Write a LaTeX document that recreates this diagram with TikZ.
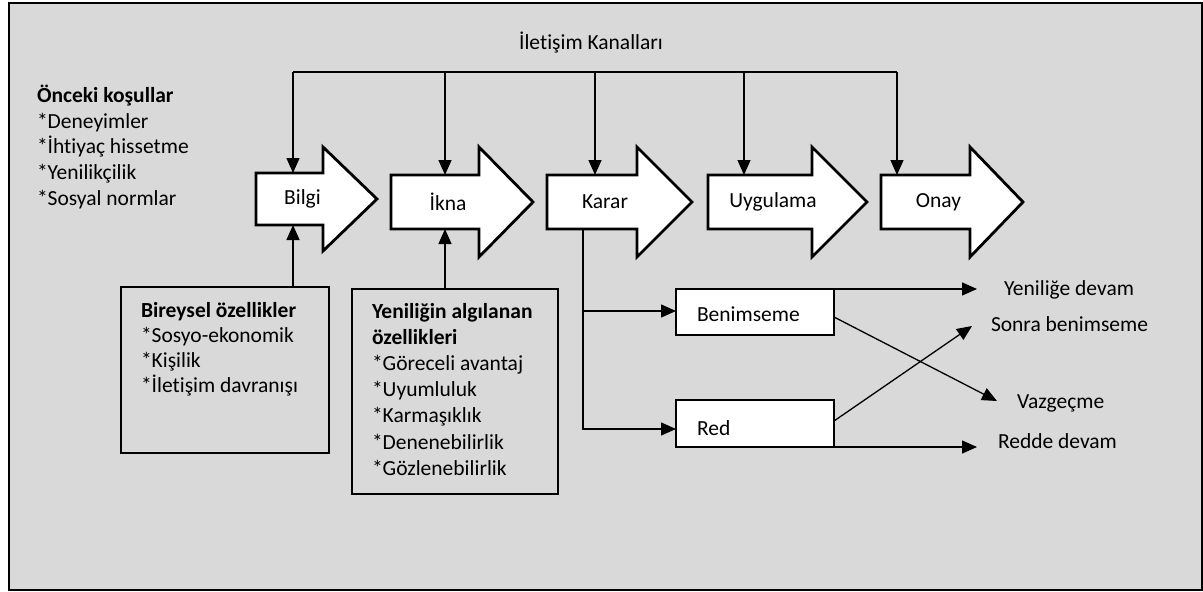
\documentclass[tikz,border=0pt]{standalone}
\usepackage{fontspec}
\setmainfont{Carlito}[Ligatures=NoCommon]
\usetikzlibrary{arrows.meta,calc}
\definecolor{bg}{HTML}{D9D9D9}
\newcommand\blkarrow[3]{%
  \draw[blk] (#1.north west) -- (#1.north east) -- ++(0,-#2)
    -- ($(#1.east)+(#3,0)$) -- ($(#1.south east)+(0,#2)$)
    -- (#1.south east) -- (#1.south west) -- cycle;}
\begin{document}
\begin{tikzpicture}[x=1pt,y=-1pt,
  every node/.style={font=\fontsize{21.5}{25.7}\selectfont, inner sep=0pt, outer sep=0pt},
  shaftbox/.style={draw=none, minimum height=#1},
  blk/.style={draw=black, fill=white, line width=2.8pt, line join=miter},
  conn/.style={draw=black, line width=1.3pt},
  tip/.style={-{Triangle[length=15pt,width=13pt]}},
  boxed/.style={draw=black, line width=1.3pt, fill=#1},
  boxed/.default=bg]
\path[use as bounding box] (0,0) rectangle (1203,592);
\draw[line width=1.6pt, fill=bg] (9,3) rectangle (1202,590);

% block arrows (shaft nodes)
\node[shaftbox=52, minimum width=67] (bilgi) at (289.5,199) {};
\node[shaftbox=54, minimum width=88] (ikna) at (435,202) {};
\node[shaftbox=54, minimum width=90] (karar) at (592,202) {};
\node[shaftbox=54, minimum width=104] (uyg) at (760,202) {};
\node[shaftbox=54, minimum width=89] (onay) at (925.5,202) {};
\blkarrow{bilgi}{26}{54}
\blkarrow{ikna}{28}{54}
\blkarrow{karar}{28}{55}
\blkarrow{uyg}{28}{55}
\blkarrow{onay}{28}{53}
\node (bilgiT) at ($(bilgi.center)+(13,0)$) {Bilgi};
\node (iknaT) at ($(ikna.center)+(13,0)$) {İkna};
\node (kararT) at ($(karar.center)+(13,0)$) {Karar};
\node (uygT) at ($(uyg.center)+(13,0)$) {Uygulama};
\node (onayT) at ($(onay.center)+(13,0)$) {Onay};

% communication channels
\node (chan) at (591,43) {İletişim Kanalları};
\coordinate (c1) at (293,72);
\coordinate (c2) at (445,72);
\coordinate (c3) at (595,72);
\coordinate (c4) at (744,72);
\coordinate (c5) at (897,72);
\draw[conn] (c1) -- (c5);
\draw[conn,tip] (c1) -- (c1 |- bilgi.north);
\draw[conn,tip] (c2) -- (c2 |- ikna.north);
\draw[conn,tip] (c3) -- (c3 |- karar.north);
\draw[conn,tip] (c4) -- (c4 |- uyg.north);
\draw[conn,tip] (c5) -- (c5 |- onay.north);

% prior conditions
\node[anchor=base west] (oncH) at (37,102) {\textbf{Önceki koşullar}};
\foreach \t [count=\i from 0] in {{*Deneyimler},{*İhtiyaç hissetme},{*Yenilikçilik},{*Sosyal normlar}}
  \node[anchor=base west] (onc\i) at (37,{128+25.7*\i}) {\t};

% individual characteristics
\node[boxed, minimum width=208, minimum height=166] (bir) at (225,370) {};
\node[anchor=base west] (birH) at (141,317) {\textbf{Bireysel özellikler}};
\foreach \t [count=\i from 1] in {{*Sosyo-ekonomik},{*Kişilik},{*İletişim davranışı}}
  \node[anchor=base west] (bir\i) at (141,{317+25*\i}) {\t};
\draw[conn,tip] (bir.north -| c1) -- (c1 |- bilgi.south);

% perceived characteristics
\node[boxed, minimum width=206, minimum height=205] (yen) at (455,391.5) {};
\node[anchor=base west] (yenH1) at (372,318) {\textbf{Yeniliğin algılanan}};
\node[anchor=base west] (yenH2) at (372,344.2) {\textbf{özellikleri}};
\foreach \t [count=\i from 2] in {{*Göreceli avantaj},{*Uyumluluk},{*Karmaşıklık},{*Denenebilirlik},{*Gözlenebilirlik}}
  \node[anchor=base west] (yen\i) at (372,{318+26.2*\i}) {\t};
\draw[conn,tip] (yen.north -| c2) -- (c2 |- ikna.south);

% decision branches
\node[boxed=white, minimum width=158, minimum height=46] (ben) at (755,312) {};
\node[boxed=white, minimum width=158, minimum height=47] (red) at (755,423.5) {};
\node[anchor=west] (benT) at (697,314) {Benimseme};
\node[anchor=west] (redT) at (697,428) {Red};
\coordinate (kx) at (583,0);
\coordinate (ra) at (676,429);
\coordinate (ba) at (676,311);
\draw[conn,tip] (kx |- karar.south) |- (ra);
\draw[conn,tip] (kx |- ba) -- (ba);

\node[anchor=west] (l1) at (1004,290) {Yeniliğe devam};
\node[anchor=west] (l2) at (991,324) {Sonra benimseme};
\node[anchor=west] (l3) at (1017,403) {Vazgeçme};
\node[anchor=west] (l4) at (998,441) {Redde devam};
\coordinate (e1) at (977,289);
\coordinate (e2) at (972,326);
\coordinate (e3) at (997,401);
\coordinate (e4) at (977,447);
\coordinate (s2) at (834,421);
\coordinate (s3) at (834,317);
\draw[conn,tip] (ben.north east) -- (e1);
\draw[conn,tip] (s2) -- (e2);
\draw[conn,tip] (s3) -- (e3);
\draw[conn,tip] (red.south east) -- (e4);
\end{tikzpicture}
\end{document}
